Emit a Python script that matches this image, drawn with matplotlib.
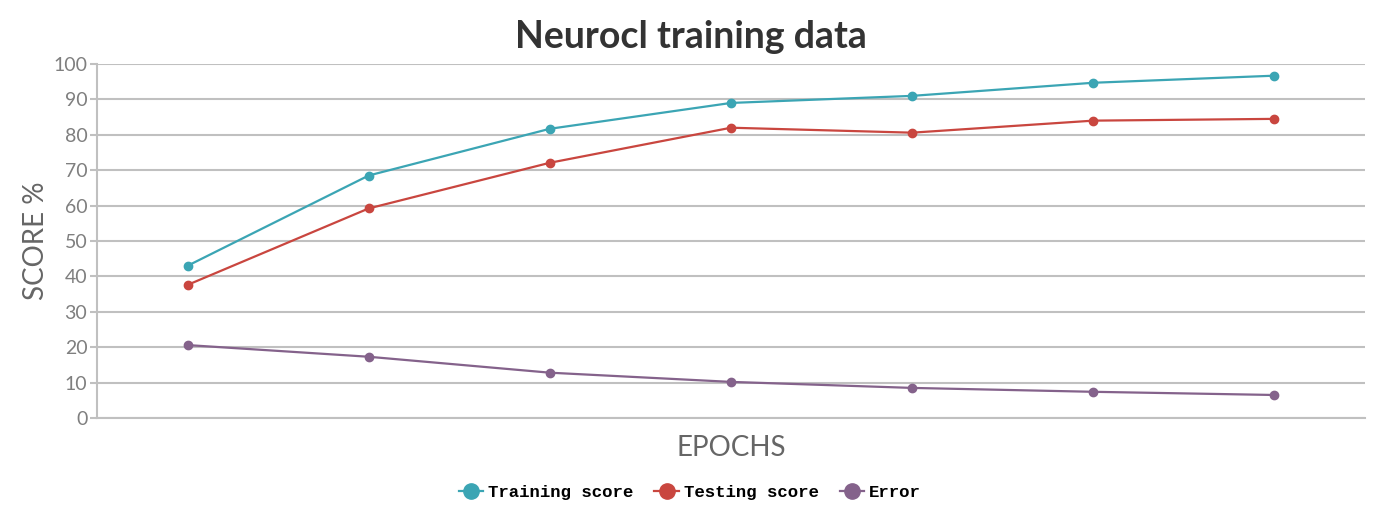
import matplotlib
matplotlib.use("Agg")
import matplotlib.pyplot as plt
from matplotlib.lines import Line2D

# --- Chart data ---
epochs = [1, 2, 3, 4, 5, 6, 7]
training_score = [43.0, 68.5, 81.7, 89.0, 91.0, 94.7, 96.7]
testing_score = [37.6, 59.2, 72.1, 82.0, 80.6, 84.0, 84.5]
error = [20.6, 17.3, 12.8, 10.2, 8.5, 7.4, 6.5]
y_ticks = [0, 10, 20, 30, 40, 50, 60, 70, 80, 90, 100]

COLORS = {"train": "#3ba5b4", "test": "#c9463f", "error": "#84628b"}
GRID = "#c0c0c0"
FONT = ["Lato", "DejaVu Sans"]

fig = plt.figure(figsize=(13.82, 5.29), dpi=100)
ax = fig.add_axes([97 / 1382, 1 - 418 / 529, (1365 - 97) / 1382, (418 - 64) / 529])

xs = list(range(len(epochs)))
series = [
    (training_score, COLORS["train"], "Training score"),
    (testing_score, COLORS["test"], "Testing score"),
    (error, COLORS["error"], "Error"),
]
for vals, col, lab in series:
    ax.plot(xs, vals, color=col, lw=1.6, marker="o", ms=6, label=lab, zorder=3)

ax.set_xlim(-0.5, len(epochs) - 0.5)
ax.set_ylim(0, 100)
ax.set_yticks(y_ticks)
ax.set_xticks([])
ax.yaxis.grid(True, color=GRID, lw=1.5)
ax.set_axisbelow(True)
for s in ["top", "right"]:
    ax.spines[s].set_visible(False)
ax.spines["left"].set_color(GRID)
ax.spines["left"].set_linewidth(1.5)
ax.spines["bottom"].set_color(GRID)
ax.spines["bottom"].set_linewidth(1.5)
ax.tick_params(axis="y", colors=GRID, length=5, width=1.5, pad=2)
for t in ax.get_yticklabels():
    t.set_color("#7f7f7f")
    t.set_fontsize(14)
    t.set_family(FONT)

ax.set_ylabel("SCORE %", fontsize=20, color="#666666", family=FONT, labelpad=3)
ax.set_xlabel("EPOCHS", fontsize=20, color="#666666", family=FONT, labelpad=12)
fig.text(0.5, 1 - 37 / 529, "Neurocl training data", ha="center", va="center",
         fontsize=27, fontweight="bold", color="#333333", family=FONT)

handles = [Line2D([0], [0], color=c, lw=1.6, marker="o", ms=11) for _, c, _ in series]
labels = [lab for _, _, lab in series]
fig.legend(handles, labels, loc="center", bbox_to_anchor=(690 / 1382, 1 - 492 / 529),
           ncol=3, frameon=False, handlelength=1.4, handletextpad=0.3, columnspacing=1.2,
           prop={"family": "Liberation Mono", "size": 12.5, "weight": "bold"})

fig.savefig("out.png", dpi=100)
